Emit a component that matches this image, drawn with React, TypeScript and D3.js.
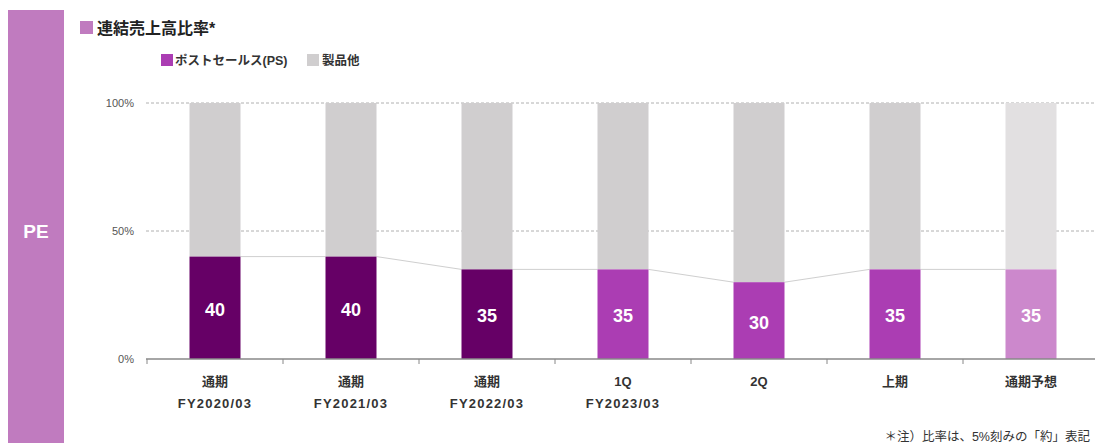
import React from "react";
import * as d3 from "d3";

// chart values
const categories = ["c1", "c2", "c3", "c4", "c5", "c6", "c7"];
const labelLine1 = ["通期", "通期", "通期", "1Q", "2Q", "上期", "通期予想"];
const labelLine2 = ["FY2020/03", "FY2021/03", "FY2022/03", "FY2023/03", "", "", ""];
const psValues = [40, 40, 35, 35, 30, 35, 35];
const otherValues = [60, 60, 65, 65, 70, 65, 65];
const psColors = ["#660066", "#660066", "#660066", "#ab3db3", "#ab3db3", "#ab3db3", "#cc88cc"];
const otherColors = ["#d0cecf", "#d0cecf", "#d0cecf", "#d0cecf", "#d0cecf", "#d0cecf", "#e2e0e1"];
const yTicks = [0, 50, 100];

const FONT = "'Liberation Sans', 'Noto Sans CJK JP', sans-serif";

const App = () => {
  const width = 1095;
  const height = 443;

  const x = d3.scaleBand().domain(categories).range([147, 1099]).paddingInner(0).paddingOuter(0);
  const y = d3.scaleLinear().domain([0, 100]).range([359, 103]);
  const barW = 51;
  const cx = (c: string) => (x(c) as number) + x.bandwidth() / 2;

  return (
    <svg width={width} height={height} style={{ position: "absolute", left: 0, top: 0 }} fontFamily={FONT}>
      {/* side bar */}
      <rect x={8} y={10} width={56} height={440} fill="#c07bbf" />
      <text x={36} y={238} fill="#fff" fontSize={19} fontWeight="bold" textAnchor="middle">PE</text>

      {/* title */}
      <rect x={80} y={21} width={13} height={13} fill="#c07bbf" />
      <text x={97} y={34} fontSize={16} fontWeight="bold" fill="#222">連結売上高比率*</text>

      {/* legend */}
      <rect x={161} y={54} width={12} height={12} fill="#ab3db3" />
      <text x={175} y={65} fontSize={12.5} fontWeight="bold" fill="#333">ポストセールス(PS)</text>
      <rect x={307} y={54} width={12} height={12} fill="#d0cecf" />
      <text x={322} y={65} fontSize={12.5} fontWeight="bold" fill="#333">製品他</text>

      {/* grid */}
      {yTicks.filter((t) => t > 0).map((t) => (
        <line key={t} x1={146} x2={1095} y1={y(t)} y2={y(t)} stroke="#b0b0b0" strokeDasharray="3,2" strokeWidth={1} />
      ))}
      {yTicks.map((t) => (
        <text key={t} x={134} y={y(t) + 4} fontSize={11} fill="#555" textAnchor="end">{t}%</text>
      ))}

      {/* connector lines */}
      {categories.slice(0, -1).map((c, i) => (
        <line
          key={c}
          x1={cx(c) + barW / 2}
          x2={cx(categories[i + 1]) - barW / 2}
          y1={y(psValues[i])}
          y2={y(psValues[i + 1])}
          stroke="#cfcfcf"
          strokeWidth={1}
        />
      ))}

      {/* bars */}
      {categories.map((c, i) => (
        <g key={c}>
          <rect x={cx(c) - barW / 2} y={y(100)} width={barW} height={y(psValues[i]) - y(psValues[i] + otherValues[i])} fill={otherColors[i]} />
          <rect x={cx(c) - barW / 2} y={y(psValues[i])} width={barW} height={y(0) - y(psValues[i])} fill={psColors[i]} />
          <text x={cx(c)} y={(y(0) + y(psValues[i])) / 2 + 8} fontSize={18} fontWeight="bold" fill="#fff" textAnchor="middle">
            {psValues[i]}
          </text>
        </g>
      ))}

      {/* x axis */}
      <line x1={146} x2={1095} y1={y(0)} y2={y(0)} stroke="#888" strokeWidth={1.5} />
      {categories.map((c) => (
        <line key={c} x1={x(c) as number} x2={x(c) as number} y1={y(0)} y2={y(0) + 5} stroke="#888" strokeWidth={1} />
      ))}
      {categories.map((c, i) => (
        <g key={c}>
          <text x={cx(c)} y={386} fontSize={13} fontWeight="bold" fill="#333" textAnchor="middle">{labelLine1[i]}</text>
          {labelLine2[i] && (
            <text x={cx(c)} y={408} fontSize={13} fontWeight="bold" fill="#333" textAnchor="middle" letterSpacing={1.2}>{labelLine2[i]}</text>
          )}
        </g>
      ))}

      {/* footnote */}
      <text x={1090} y={441} fontSize={12.5} fill="#333" textAnchor="end">＊注）比率は、5%刻みの「約」表記</text>
    </svg>
  );
};

export default App;
